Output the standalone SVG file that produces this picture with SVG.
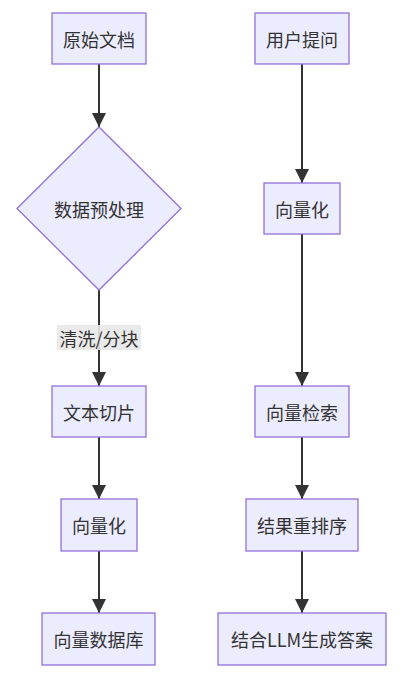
<svg xmlns="http://www.w3.org/2000/svg" width="400" height="680" viewBox="0 0 400 680">
<defs>
<marker id="arrow" viewBox="0 0 14 14" refX="14" refY="7" markerWidth="14" markerHeight="14" markerUnits="userSpaceOnUse" orient="auto">
<path d="M0,0 L14,7 L0,14 z" fill="#333333"/>
</marker>
<style>
.node{fill:#ECECFF;stroke:#9370DB;stroke-width:1.3;}
.lbl{font-family:"Noto Sans CJK SC","Noto Sans",sans-serif;font-size:18px;fill:#333333;text-anchor:middle;dominant-baseline:central;}
.edge{stroke:#333333;stroke-width:2;fill:none;marker-end:url(#arrow);}
.elbl{fill:#e8e8e8;opacity:0.9;}
</style>
</defs>
<rect width="400" height="680" fill="#ffffff"/>
<g id="connectors">
<line class="edge" x1="99" y1="64" x2="99" y2="127"/>
<line class="edge" x1="99" y1="290" x2="99" y2="386"/>
<line class="edge" x1="99" y1="437" x2="99" y2="499"/>
<line class="edge" x1="99" y1="551" x2="99" y2="613"/>
<line class="edge" x1="302" y1="64" x2="302" y2="183"/>
<line class="edge" x1="302" y1="234" x2="302" y2="386"/>
<line class="edge" x1="302" y1="437" x2="302" y2="499"/>
<line class="edge" x1="302" y1="551" x2="302" y2="613"/>
<g id="edge-label">
<rect class="elbl" x="57" y="325" width="84" height="25"/>
<text class="lbl" x="99" y="337.5">清洗/分块</text>
</g>
</g>
<g id="n1">
<rect class="node" x="52" y="13" width="94" height="51"/>
<text class="lbl" x="99" y="38.5">原始文档</text>
</g>
<g id="n2">
<polygon class="node" points="99,127 181,208.5 99,290 17,208.5"/>
<text class="lbl" x="99" y="208.5">数据预处理</text>
</g>
<g id="n3">
<rect class="node" x="52" y="386" width="94" height="51"/>
<text class="lbl" x="99" y="411.5">文本切片</text>
</g>
<g id="n4">
<rect class="node" x="61" y="499" width="76" height="52"/>
<text class="lbl" x="99" y="525">向量化</text>
</g>
<g id="n5">
<rect class="node" x="42" y="613" width="113" height="52"/>
<text class="lbl" x="98.5" y="639">向量数据库</text>
</g>
<g id="m1">
<rect class="node" x="255" y="13" width="94" height="51"/>
<text class="lbl" x="302" y="38.5">用户提问</text>
</g>
<g id="m2">
<rect class="node" x="264" y="183" width="76" height="51"/>
<text class="lbl" x="302" y="208.5">向量化</text>
</g>
<g id="m3">
<rect class="node" x="255" y="386" width="94" height="51"/>
<text class="lbl" x="302" y="411.5">向量检索</text>
</g>
<g id="m4">
<rect class="node" x="246" y="499" width="112" height="52"/>
<text class="lbl" x="302" y="525">结果重排序</text>
</g>
<g id="m5">
<rect class="node" x="218" y="613" width="168" height="52"/>
<text class="lbl" x="302" y="639">结合LLM生成答案</text>
</g>
</svg>
